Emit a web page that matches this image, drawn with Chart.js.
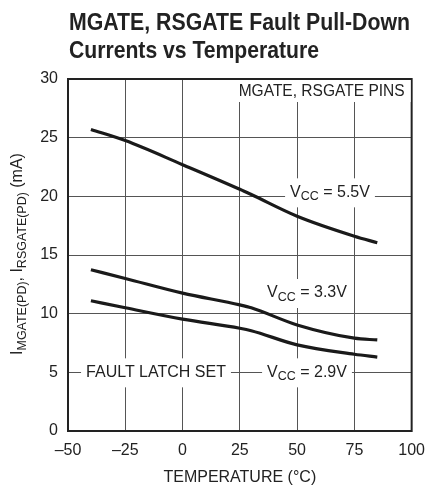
<!DOCTYPE html>
<html>
<head>
<meta charset="utf-8">
<script src="https://cdn.jsdelivr.net/npm/chart.js@4.4.1/dist/chart.umd.min.js"></script>
<style>
  html, body { margin: 0; padding: 0; background: #fff; }
  #wrap { width: 435px; height: 487px; }
</style>
</head>
<body>
<div id="wrap"><canvas id="chart" width="435" height="487"></canvas></div>
<script>
// temperature points (°C)
const temps = [-40, -25, 0, 25, 30, 50, 75, 85];
// pull-down current (mA) per supply
const vcc55 = [25.7, 24.75, 22.7, 20.6, 20.15, 18.3, 16.6, 16.05];
const vcc33 = [13.74, 13.0, 11.75, 10.75, 10.5, 9.04, 7.91, 7.76];
const vcc29 = [11.1, 10.5, 9.53, 8.76, 8.55, 7.34, 6.54, 6.3];

const xTicks = [-50, -25, 0, 25, 50, 75, 100];
const yTicks = [0, 5, 10, 15, 20, 25, 30];

const FONT = '"Liberation Sans", Arial, sans-serif';

function pts(ys) {
  return temps.map((t, i) => ({ x: t, y: ys[i] }));
}

// draw a run of text pieces, some subscripted; returns total width
function drawRich(ctx, parts, x, y, size, measureOnly) {
  let w = 0;
  parts.forEach(p => {
    const fs = p.sub ? size * 0.78 : size;
    ctx.font = fs + "px " + FONT;
    if (!measureOnly) ctx.fillText(p.t, x + w, y + (p.sub ? size * 0.28 : 0));
    w += ctx.measureText(p.t).width;
  });
  return w;
}

// text squeezed horizontally to look like the condensed face in the original
function narrowText(ctx, text, x, y, k) {
  ctx.save();
  ctx.translate(x, y);
  ctx.scale(k, 1);
  ctx.fillText(text, 0, 0);
  ctx.restore();
}

function boxLabel(ctx, parts, cx, cy, size) {
  ctx.textBaseline = "middle";
  ctx.textAlign = "left";
  const w = drawRich(ctx, parts, 0, 0, size, true);
  ctx.fillStyle = "#fff";
  ctx.fillRect(cx - w / 2 - 5, cy - 14, w + 10, 29);
  ctx.fillStyle = "#222";
  drawRich(ctx, parts, cx - w / 2, cy, size, false);
}

const textPlugin = {
  id: "textPlugin",
  afterDraw(chart) {
    const ctx = chart.ctx;
    const xs = chart.scales.x, ys = chart.scales.y;
    ctx.save();

    // title
    ctx.fillStyle = "#222";
    ctx.textAlign = "left";
    ctx.textBaseline = "alphabetic";
    ctx.font = "bold 24px " + FONT;
    const l1 = "MGATE, RSGATE Fault Pull-Down";
    const l2 = "Currents vs Temperature";
    narrowText(ctx, l1, 69, 30, 341 / ctx.measureText(l1).width);
    narrowText(ctx, l2, 69, 58, 250 / ctx.measureText(l2).width);

    // in-plot labels
    ctx.textBaseline = "middle";
    ctx.font = "16px " + FONT;
    const t1 = "MGATE, RSGATE PINS";
    const k1 = 166 / ctx.measureText(t1).width;
    const right = xs.getPixelForValue(100);
    const top = ys.getPixelForValue(30);
    ctx.fillStyle = "#fff";
    ctx.fillRect(right - 176, top + 1, 175, 22);
    ctx.fillStyle = "#222";
    narrowText(ctx, t1, right - 173, top + 13, k1);

    boxLabel(ctx, [{ t: "V" }, { t: "CC", sub: true }, { t: " = 5.5V" }], 330, ys.getPixelForValue(20) - 4, 16);
    boxLabel(ctx, [{ t: "V" }, { t: "CC", sub: true }, { t: " = 3.3V" }], 307, 293, 16);
    boxLabel(ctx, [{ t: "V" }, { t: "CC", sub: true }, { t: " = 2.9V" }], 307, ys.getPixelForValue(5), 16);
    boxLabel(ctx, [{ t: "FAULT LATCH SET" }], 156, ys.getPixelForValue(5), 16);

    // y axis title, rotated with subscripts
    const yParts = [
      { t: "I" }, { t: "MGATE(PD)", sub: true }, { t: ", I" },
      { t: "RSGATE(PD)", sub: true }, { t: " (mA)" }
    ];
    ctx.textAlign = "left";
    ctx.textBaseline = "middle";
    const wy = drawRich(ctx, yParts, 0, 0, 16, true);
    ctx.translate(18, 254);
    ctx.rotate(-Math.PI / 2);
    ctx.fillStyle = "#222";
    drawRich(ctx, yParts, -wy / 2, 0, 16, false);
    ctx.restore();
  }
};

const lineStyle = {
  borderColor: "#1a1a1a",
  borderWidth: 3.2,
  pointRadius: 0,
  fill: false,
  cubicInterpolationMode: "monotone"
};

new Chart(document.getElementById("chart"), {
  type: "line",
  data: {
    datasets: [
      Object.assign({ label: "VCC = 5.5V", data: pts(vcc55) }, lineStyle),
      Object.assign({ label: "VCC = 3.3V", data: pts(vcc33) }, lineStyle),
      Object.assign({ label: "VCC = 2.9V", data: pts(vcc29) }, lineStyle)
    ]
  },
  options: {
    responsive: false,
    animation: false,
    layout: { padding: { top: 79, right: 15, left: 0, bottom: 0 } },
    plugins: { legend: { display: false }, tooltip: { enabled: false } },
    scales: {
      x: {
        type: "linear",
        min: -50, max: 100,
        afterBuildTicks: s => { s.ticks = xTicks.map(v => ({ value: v })); },
        afterFit: s => { s.height = 56; },
        grid: { color: "#555", lineWidth: 1, drawTicks: false },
        border: { color: "#222", width: 2 },
        ticks: {
          color: "#222", padding: 10,
          font: { family: FONT, size: 16 },
          callback: v => String(v).replace("-", "\u2013")
        },
        title: {
          display: true, text: "TEMPERATURE (\u00B0C)", color: "#222",
          font: { family: FONT, size: 16 }, padding: { top: 4, bottom: 0 }
        }
      },
      y: {
        min: 0, max: 30,
        afterBuildTicks: s => { s.ticks = yTicks.map(v => ({ value: v })); },
        afterFit: s => { s.width = 68; },
        grid: { color: "#555", lineWidth: 1, drawTicks: false },
        border: { color: "#222", width: 2 },
        ticks: { color: "#222", padding: 10, font: { family: FONT, size: 16 } }
      }
    }
  },
  plugins: [textPlugin, {
    id: "frame",
    beforeDatasetsDraw(chart) {
      const a = chart.chartArea, ctx = chart.ctx;
      ctx.save();
      ctx.strokeStyle = "#222";
      ctx.lineWidth = 2;
      ctx.strokeRect(a.left, a.top, a.right - a.left, a.bottom - a.top);
      ctx.restore();
    }
  }]
});
</script>
</body>
</html>
